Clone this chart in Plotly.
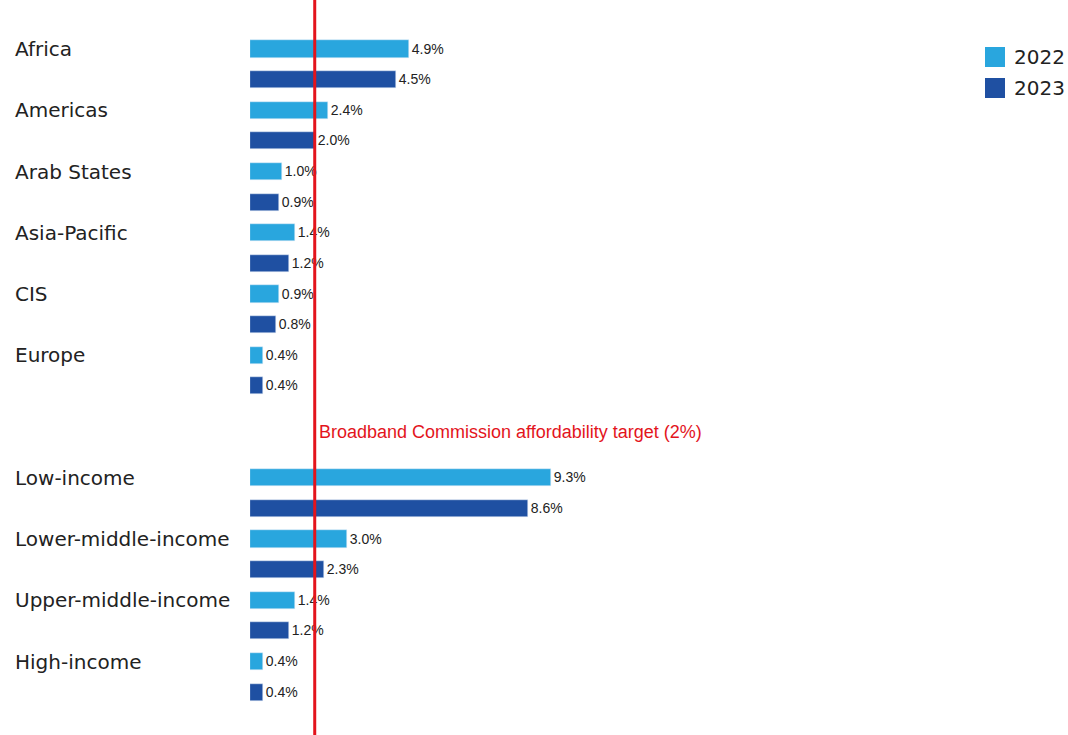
import plotly.graph_objects as go

categories = ["Africa", "Americas", "Arab States", "Asia-Pacific", "CIS", "Europe",
              "Low-income", "Lower-middle-income", "Upper-middle-income", "High-income"]
values_2022 = [4.9, 2.4, 1.0, 1.4, 0.9, 0.4, 9.3, 3.0, 1.4, 0.4]
values_2023 = [4.5, 2.0, 0.9, 1.2, 0.8, 0.4, 8.6, 2.3, 1.2, 0.4]
series_names = ["2022", "2023"]
target = 2.0
target_label = "Broadband Commission affordability target (2%)"

# row positions: each category takes two rows; a gap of two rows between groups
rows_2022 = []
rows_2023 = []
for i in range(len(categories)):
    base = i * 2 + (2 if i >= 6 else 0)
    rows_2022.append(base)
    rows_2023.append(base + 1)

c2022 = "#29a6de"
c2023 = "#1f50a2"
colors = [c2022, c2023]
val_font = dict(size=14, color="#222222", family="Liberation Sans, Arial")

fig = go.Figure()
fig.add_trace(go.Bar(
    x=values_2022, y=rows_2022, orientation="h", name=series_names[0],
    marker=dict(color=c2022), width=0.56,
    text=[f"{v:.1f}%" for v in values_2022], textposition="outside",
    textfont=val_font, cliponaxis=False,
))
fig.add_trace(go.Bar(
    x=values_2023, y=rows_2023, orientation="h", name=series_names[1],
    marker=dict(color=c2023), width=0.56,
    text=[f"{v:.1f}%" for v in values_2023], textposition="outside",
    textfont=val_font, cliponaxis=False,
))

for cat, r in zip(categories, rows_2022):
    fig.add_annotation(x=0, xref="paper", y=r, yref="y", text=cat,
                       showarrow=False, xanchor="left", xshift=-237,
                       font=dict(size=20, color="#222222", family="DejaVu Sans"))

fig.add_shape(type="line", x0=target, x1=target, xref="x", y0=0, y1=1, yref="paper",
              line=dict(color="#e3141c", width=3), layer="above")
fig.add_annotation(x=target, y=12.5, xref="x", yref="y", text=target_label,
                   showarrow=False, xanchor="left", xshift=2,
                   font=dict(size=18, color="#e3141c", family="Liberation Sans, Arial"))

# custom legend with large square swatches (top-right)
for k, (name, col) in enumerate(zip(series_names, colors)):
    yc = 57 + 31 * k
    fig.add_shape(type="rect", xref="paper", yref="paper",
                  x0=(985 - 250) / 725, x1=(1005 - 250) / 725,
                  y0=1 - (yc - 10) / 735, y1=1 - (yc + 10) / 735,
                  fillcolor=col, line=dict(width=0))
    fig.add_annotation(xref="paper", yref="paper", x=(1012 - 250) / 725,
                       y=1 - yc / 735, text=name, showarrow=False,
                       xanchor="left", yanchor="middle",
                       font=dict(size=20, color="#222222", family="DejaVu Sans"))

fig.update_layout(
    width=1068, height=735,
    margin=dict(l=250, r=93, t=0, b=0),
    paper_bgcolor="white", plot_bgcolor="white",
    barmode="overlay",
    bargap=0,
    xaxis=dict(range=[0, 22.4], visible=False),
    yaxis=dict(range=[22.4, -1.6], visible=False),
    showlegend=False,
)

fig.write_html("out.html")
